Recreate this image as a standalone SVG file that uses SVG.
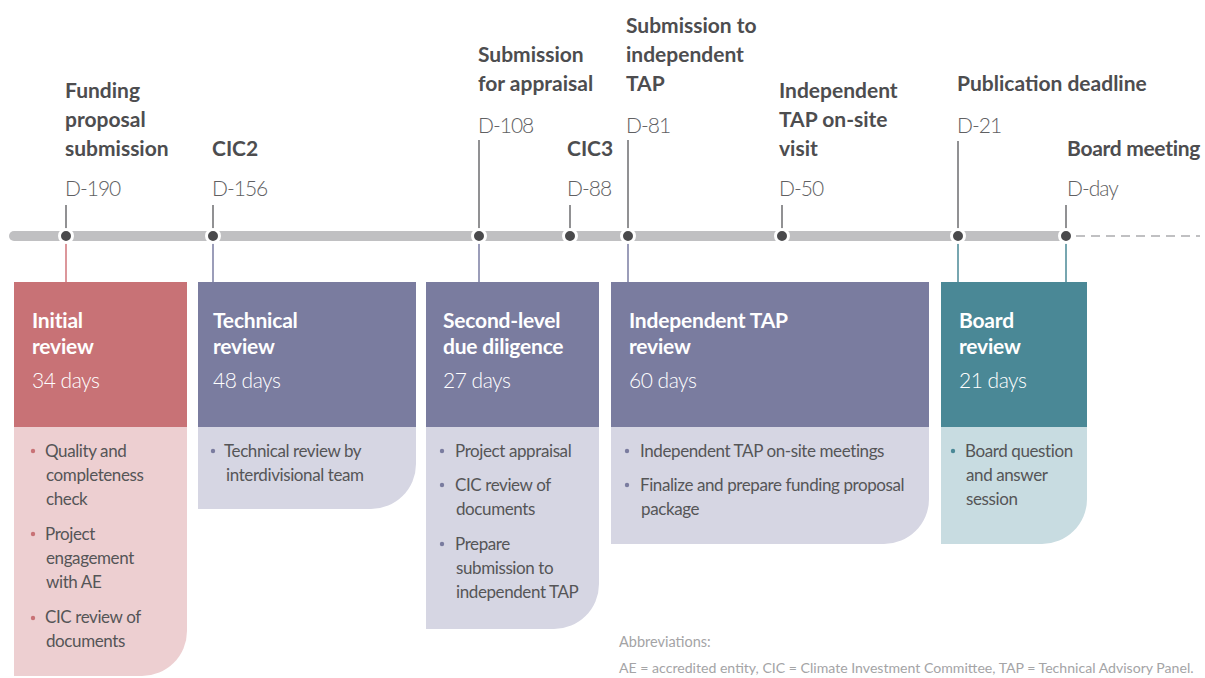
<svg xmlns="http://www.w3.org/2000/svg" width="1205" height="678" viewBox="0 0 1205 678">
<style>
text{font-family:Lato,"Open Sans","Liberation Sans",sans-serif}
.ttl{font-size:21px;font-weight:700;fill:#4d4d4f}
.day{font-size:21px;font-weight:300;fill:#606062;letter-spacing:-1px}
.hd{font-size:21px;font-weight:700;fill:#ffffff;letter-spacing:-0.2px}
.dur{font-size:21px;font-weight:300;fill:#ffffff;letter-spacing:-0.5px}
.bt{font-size:17px;font-weight:400;fill:#555557;letter-spacing:-0.4px}
.abbr{font-size:14.5px;font-weight:400;fill:#a4a4a6}
.abbr2{font-size:14.1px;font-weight:400;fill:#a4a4a6}
.tick{stroke:#6d6d6f;stroke-width:1.5}
.dot{fill:#4a4a4c;stroke:#ffffff;stroke-width:3}
</style>
<rect width="1205" height="678" fill="#ffffff"/>
<g id="timeline">
<line x1="14" y1="236" x2="1066" y2="236" stroke="#c0c0c2" stroke-width="10" stroke-linecap="round"/>
<line x1="1076" y1="236" x2="1200" y2="236" stroke="#c0c0c2" stroke-width="2" stroke-dasharray="9 6"/>
</g>
<g id="connectors">
<line class="tick" x1="66" y1="205" x2="66" y2="230"/>
<line class="tick" x1="213" y1="205" x2="213" y2="230"/>
<line class="tick" x1="479" y1="140" x2="479" y2="230"/>
<line class="tick" x1="570" y1="205" x2="570" y2="230"/>
<line class="tick" x1="628" y1="140" x2="628" y2="230"/>
<line class="tick" x1="782" y1="205" x2="782" y2="230"/>
<line class="tick" x1="958" y1="141" x2="958" y2="230"/>
<line class="tick" x1="1066" y1="205" x2="1066" y2="230"/>
<line x1="66" y1="242" x2="66" y2="282" stroke="#d0747a" stroke-width="1.5"/>
<line x1="213" y1="242" x2="213" y2="282" stroke="#7a7ca2" stroke-width="1.5"/>
<line x1="479" y1="242" x2="479" y2="282" stroke="#7a7ca2" stroke-width="1.5"/>
<line x1="628" y1="242" x2="628" y2="282" stroke="#7a7ca2" stroke-width="1.5"/>
<line x1="958" y1="242" x2="958" y2="282" stroke="#4a8896" stroke-width="1.5"/>
<line x1="1066" y1="242" x2="1066" y2="282" stroke="#4a8896" stroke-width="1.5"/>
</g>
<g id="m1"><text class="ttl" x="65" y="98">Funding</text><text class="ttl" x="65" y="127">proposal</text><text class="ttl" x="65" y="156">submission</text><text class="day" x="65" y="196">D-190</text><circle class="dot" cx="66" cy="236" r="6.5"/></g>
<g id="m2"><text class="ttl" x="212" y="156">CIC2</text><text class="day" x="212" y="196">D-156</text><circle class="dot" cx="213" cy="236" r="6.5"/></g>
<g id="m3"><text class="ttl" x="478" y="62">Submission</text><text class="ttl" x="478" y="91">for appraisal</text><text class="day" x="478" y="133">D-108</text><circle class="dot" cx="479" cy="236" r="6.5"/></g>
<g id="m4"><text class="ttl" x="567" y="156">CIC3</text><text class="day" x="567" y="196">D-88</text><circle class="dot" cx="570" cy="236" r="6.5"/></g>
<g id="m5"><text class="ttl" x="626" y="33">Submission to</text><text class="ttl" x="626" y="62">independent</text><text class="ttl" x="626" y="91">TAP</text><text class="day" x="626" y="133">D-81</text><circle class="dot" cx="628" cy="236" r="6.5"/></g>
<g id="m6"><text class="ttl" x="779" y="98">Independent</text><text class="ttl" x="779" y="127">TAP on-site</text><text class="ttl" x="779" y="156">visit</text><text class="day" x="779" y="196">D-50</text><circle class="dot" cx="782" cy="236" r="6.5"/></g>
<g id="m7"><text class="ttl" x="957" y="91">Publication deadline</text><text class="day" x="957" y="133">D-21</text><circle class="dot" cx="958" cy="236" r="6.5"/></g>
<g id="m8"><text class="ttl" x="1067" y="156" letter-spacing="-0.3">Board meeting</text><text class="day" x="1067" y="196">D-day</text><circle class="dot" cx="1066" cy="236" r="6.5"/></g>

<g id="box-initial">
<path d="M14 282 H187 V631 A45 45 0 0 1 142 676 H14 Z" fill="#edcfd1"/>
<rect x="14" y="282" width="173" height="145" fill="#c87276"/>
<text class="hd" x="32" y="328">Initial</text><text class="hd" x="32" y="354">review</text>
<text class="dur" x="32" y="388">34 days</text>
<g fill="#c87276"><circle cx="33" cy="451" r="2.2"/><circle cx="33" cy="534" r="2.2"/><circle cx="33" cy="618" r="2.2"/></g>
<text class="bt" x="45" y="457">Quality and</text><text class="bt" x="46" y="481">completeness</text><text class="bt" x="46" y="505">check</text>
<text class="bt" x="45" y="540">Project</text><text class="bt" x="46" y="564">engagement</text><text class="bt" x="46" y="588">with AE</text>
<text class="bt" x="45" y="623">CIC review of</text><text class="bt" x="46" y="647">documents</text>
</g>
<g id="box-technical">
<path d="M198 282 H416 V464 A45 45 0 0 1 371 509 H198 Z" fill="#d6d6e3"/>
<rect x="198" y="282" width="218" height="145" fill="#7a7c9f"/>
<text class="hd" x="213" y="328">Technical</text><text class="hd" x="213" y="354">review</text>
<text class="dur" x="213" y="388">48 days</text>
<circle cx="213" cy="451" r="2.2" fill="#7a7c9f"/>
<text class="bt" x="224" y="457">Technical review by</text><text class="bt" x="226" y="481">interdivisional team</text>
</g>
<g id="box-second">
<path d="M426 282 H599 V584 A45 45 0 0 1 554 629 H426 Z" fill="#d6d6e3"/>
<rect x="426" y="282" width="173" height="145" fill="#7a7c9f"/>
<text class="hd" x="443" y="328">Second-level</text><text class="hd" x="443" y="354">due diligence</text>
<text class="dur" x="443" y="388">27 days</text>
<g fill="#7a7c9f"><circle cx="442" cy="451" r="2.2"/><circle cx="442" cy="485" r="2.2"/><circle cx="442" cy="544" r="2.2"/></g>
<text class="bt" x="455" y="457">Project appraisal</text>
<text class="bt" x="455" y="491">CIC review of</text><text class="bt" x="456" y="515">documents</text>
<text class="bt" x="455" y="550">Prepare</text><text class="bt" x="456" y="574">submission to</text><text class="bt" x="456" y="598">independent TAP</text>
</g>
<g id="box-tap">
<path d="M611 282 H929 V499 A45 45 0 0 1 884 544 H611 Z" fill="#d6d6e3"/>
<rect x="611" y="282" width="318" height="145" fill="#7a7c9f"/>
<text class="hd" x="629" y="328">Independent TAP</text><text class="hd" x="629" y="354">review</text>
<text class="dur" x="629" y="388">60 days</text>
<g fill="#7a7c9f"><circle cx="627" cy="451" r="2.2"/><circle cx="627" cy="485" r="2.2"/></g>
<text class="bt" x="640" y="457">Independent TAP on-site meetings</text>
<text class="bt" x="640" y="491">Finalize and prepare funding proposal</text><text class="bt" x="641" y="515">package</text>
</g>
<g id="box-board">
<path d="M941 282 H1087 V499 A45 45 0 0 1 1042 544 H941 Z" fill="#c8dce1"/>
<rect x="941" y="282" width="146" height="145" fill="#4a8896"/>
<text class="hd" x="959" y="328">Board</text><text class="hd" x="959" y="354">review</text>
<text class="dur" x="959" y="388">21 days</text>
<circle cx="953" cy="451" r="2.2" fill="#4a8896"/>
<text class="bt" x="965" y="457">Board question</text><text class="bt" x="966" y="481">and answer</text><text class="bt" x="966" y="505">session</text>
</g>
<g id="abbreviations">
<text class="abbr" x="619" y="647">Abbreviations:</text>
<text class="abbr2" x="619" y="673">AE = accredited entity, CIC = Climate Investment Committee, TAP = Technical Advisory Panel.</text>
</g>
</svg>
